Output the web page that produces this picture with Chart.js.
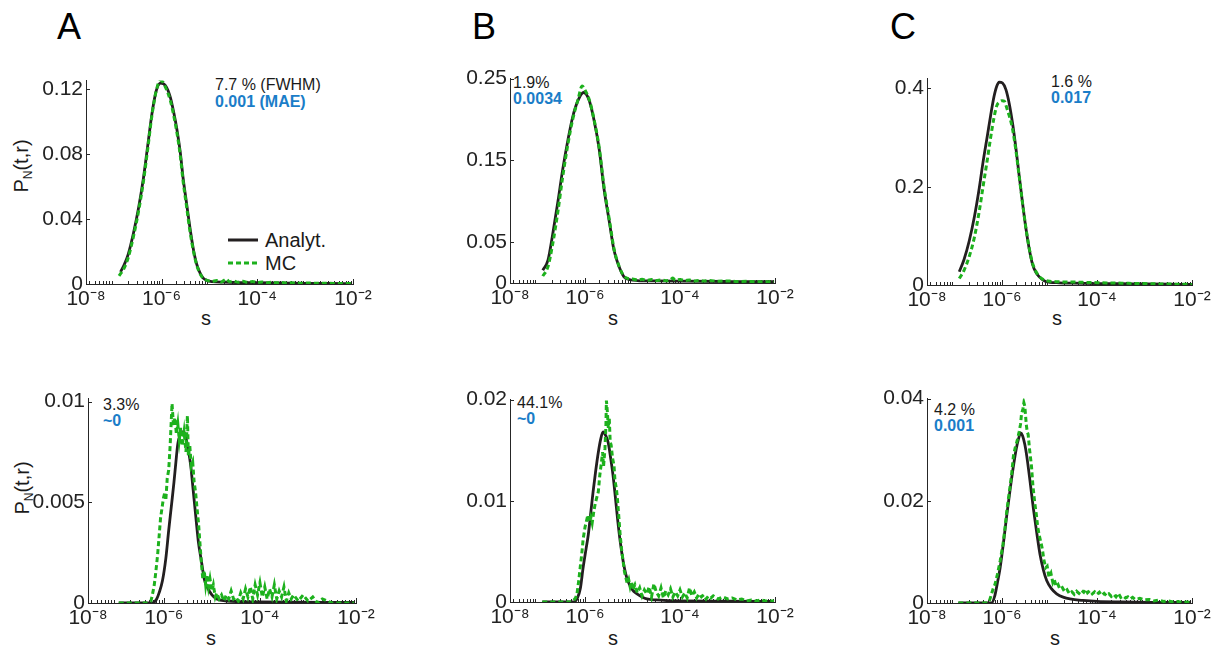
<!DOCTYPE html>
<html>
<head>
<meta charset="utf-8">
<script src="https://cdn.jsdelivr.net/npm/chart.js@4.4.1/dist/chart.umd.min.js"></script>
<style>
  html, body { margin: 0; padding: 0; background: #fff; }
  #fig { position: relative; width: 1211px; height: 645px; overflow: hidden;
         font-family: "Liberation Sans", Arial, Helvetica, sans-serif; color: #1a1a1a; }
  #fig canvas { position: absolute; }
  .t { position: absolute; line-height: 1; white-space: nowrap; transform: translateY(-50%); }
  .letter { font-size: 36px; color: #000; }
  .note { font-size: 16px; }
  .blue { color: #1a7dc8; font-weight: bold; }
  .axlab { font-size: 20px; transform: translate(-50%, -50%); }
  .ylab { position: absolute; font-size: 20px; line-height: 1; white-space: nowrap;
          transform: translate(-50%, -50%) rotate(-90deg); }
  .ylab sub { font-size: 12px; vertical-align: -4px; }
  .leg { font-size: 20px; }
  .legline { position: absolute; width: 30px; height: 3px; transform: translateY(-50%); }
</style>
</head>
<body>
<div id="fig">
  <div class="t letter" style="left:57px;top:27px">A</div>
  <div class="t letter" style="left:472px;top:27px">B</div>
  <div class="t letter" style="left:890px;top:27px">C</div>

  <div class="ylab" style="left:22px;top:166px">P<sub>N</sub>(t,r)</div>
  <div class="ylab" style="left:23px;top:488px">P<sub>N</sub>(t,r)</div>

  <div class="t axlab" style="left:206px;top:318px">s</div>
  <div class="t axlab" style="left:613px;top:318px">s</div>
  <div class="t axlab" style="left:1057px;top:318px">s</div>
  <div class="t axlab" style="left:211px;top:638px">s</div>
  <div class="t axlab" style="left:613px;top:638px">s</div>
  <div class="t axlab" style="left:1055px;top:638px">s</div>

  <div class="t note" style="left:215px;top:85px">7.7 % (FWHM)</div>
  <div class="t note blue" style="left:215px;top:102px">0.001 (MAE)</div>
  <div class="t note" style="left:513px;top:83px">1.9%</div>
  <div class="t note blue" style="left:513px;top:99px">0.0034</div>
  <div class="t note" style="left:1051px;top:82px">1.6 %</div>
  <div class="t note blue" style="left:1051px;top:98px">0.017</div>
  <div class="t note" style="left:103px;top:405px">3.3%</div>
  <div class="t note blue" style="left:103px;top:421px">~0</div>
  <div class="t note" style="left:517px;top:403px">44.1%</div>
  <div class="t note blue" style="left:517px;top:419px">~0</div>
  <div class="t note" style="left:934px;top:410px">4.2 %</div>
  <div class="t note blue" style="left:934px;top:426px">0.001</div>

  <div class="legline" style="left:228px;top:240px;background:#231f20"></div>
  <div class="t leg" style="left:265px;top:240px">Analyt.</div>
  <div class="legline" style="left:228px;top:263px;background:repeating-linear-gradient(90deg,#1db11d 0 5px,transparent 5px 8px)"></div>
  <div class="t leg" style="left:265px;top:263px">MC</div>
</div>
<script>
const FONT = '"Liberation Sans", Arial, Helvetica, sans-serif';
const BLACK = '#231f20';
const GREEN = '#1db11d';
const AXIS_COLOR = '#262626';

// x axis: s on a log scale, values kept as log10(s)
const xMinExp = -7.58;
const xMaxExp = -2;
const xTickExps = [-7.58, -6, -4, -2];
const xTickLabels = ['10⁻⁸', '10⁻⁶', '10⁻⁴', '10⁻²'];

// ---- A, top
const aTopYTicks = [0, 0.04, 0.08, 0.12];
const aTopAnalytExp = [-6.86, -6.78, -6.7, -6.59, -6.48, -6.38, -6.29, -6.2, -6.11, -6.02,
  -5.92, -5.82, -5.75, -5.68, -5.61, -5.55, -5.48, -5.41, -5.34, -5.27,
  -5.2, -5.13, -5.05, -4.95, -4.7, -4.4, -4.0, -3.5, -3.0, -2.5, -2.02];
const aTopAnalyt = [0.0074, 0.012, 0.018, 0.031, 0.047, 0.065, 0.085, 0.105, 0.119, 0.1235,
  0.122, 0.115, 0.106, 0.095, 0.081, 0.065, 0.050, 0.035, 0.022, 0.0125,
  0.007, 0.0036, 0.0022, 0.0015, 0.0011, 0.0009, 0.0008, 0.0006, 0.0004, 0.0003, 0.0002];
const aTopMcExp = [-6.89, -6.78, -6.7, -6.59, -6.48, -6.38, -6.29, -6.2, -6.11, -6.03,
  -5.97, -5.92, -5.82, -5.75, -5.68, -5.61, -5.55, -5.48, -5.41, -5.34,
  -5.27, -5.2, -5.13, -5.05, -4.95, -4.85, -4.75, -4.65, -4.58, -4.5,
  -4.4, -4.3, -4.2, -4.1, -4.0, -3.9, -3.8, -3.7, -3.6, -3.5,
  -3.4, -3.3, -3.1, -2.9, -2.7, -2.5, -2.3, -2.02];
const aTopMc = [0.005, 0.010, 0.016, 0.029, 0.045, 0.063, 0.083, 0.104, 0.119, 0.125,
  0.124, 0.121, 0.113, 0.104, 0.093, 0.079, 0.063, 0.048, 0.033, 0.021,
  0.012, 0.0065, 0.0035, 0.0022, 0.0015, 0.0022, 0.0013, 0.0030, 0.0014, 0.0019,
  0.0011, 0.0017, 0.0010, 0.0015, 0.0009, 0.0013, 0.0008, 0.0011, 0.0007, 0.0010,
  0.0006, 0.0008, 0.0005, 0.0006, 0.0004, 0.0004, 0.0003, 0.0003];

// ---- B, top
const bTopYTicks = [0, 0.05, 0.15, 0.25];
const bTopAnalytExp = [-6.89, -6.78, -6.68, -6.57, -6.47, -6.36, -6.26, -6.15, -6.03, -5.91,
  -5.81, -5.7, -5.6, -5.49, -5.39, -5.28, -5.18, -5.05, -4.9, -4.5, -4.0, -3.0, -2.02];
const bTopAnalyt = [0.0156, 0.028, 0.060, 0.100, 0.139, 0.175, 0.203, 0.223, 0.233, 0.223,
  0.199, 0.163, 0.115, 0.0755, 0.040, 0.0195, 0.0076, 0.004, 0.003, 0.0025, 0.0022, 0.0018, 0.0015];
const bTopMcExp = [-6.89, -6.78, -6.68, -6.57, -6.47, -6.36, -6.26, -6.15, -6.06, -6.0,
  -5.91, -5.81, -5.7, -5.6, -5.49, -5.39, -5.28, -5.18, -5.1, -5.0,
  -4.9, -4.8, -4.7, -4.6, -4.5, -4.4, -4.3, -4.2, -4.15, -4.1,
  -4.0, -3.9, -3.8, -3.7, -3.6, -3.5, -3.4, -3.2, -3.0, -2.8,
  -2.6, -2.4, -2.2, -2.02];
const bTopMc = [0.0084, 0.020, 0.048, 0.088, 0.130, 0.170, 0.200, 0.224, 0.241, 0.236,
  0.224, 0.200, 0.165, 0.118, 0.078, 0.042, 0.020, 0.0085, 0.0055, 0.0050,
  0.0035, 0.0045, 0.0030, 0.0042, 0.0030, 0.0038, 0.0028, 0.0040, 0.0060, 0.0035,
  0.0042, 0.0030, 0.0036, 0.0025, 0.0032, 0.0024, 0.0030, 0.0022, 0.0025, 0.0018,
  0.0020, 0.0015, 0.0016, 0.0015];

// ---- C, top
const cTopYTicks = [0, 0.2, 0.4];
const cTopAnalytExp = [-6.9, -6.8, -6.69, -6.58, -6.48, -6.4, -6.31, -6.24, -6.17, -6.11,
  -6.06, -5.99, -5.92, -5.85, -5.78, -5.71, -5.64, -5.57, -5.5, -5.43,
  -5.36, -5.29, -5.22, -5.15, -5.08, -5.0, -4.8, -4.5, -4.0, -3.5, -3.0, -2.5, -2.0];
const cTopAnalyt = [0.027, 0.052, 0.090, 0.140, 0.197, 0.250, 0.303, 0.345, 0.383, 0.405,
  0.413, 0.411, 0.398, 0.370, 0.330, 0.280, 0.223, 0.168, 0.117, 0.075,
  0.043, 0.026, 0.017, 0.011, 0.007, 0.0055, 0.0045, 0.0038, 0.003, 0.0025, 0.002, 0.0015, 0.001];
const cTopMcExp = [-6.9, -6.8, -6.69, -6.58, -6.48, -6.4, -6.31, -6.24, -6.17, -6.11,
  -6.06, -6.0, -5.95, -5.9, -5.85, -5.78, -5.71, -5.64, -5.57, -5.5,
  -5.43, -5.36, -5.29, -5.22, -5.15, -5.08, -5.0, -4.9, -4.8, -4.6,
  -4.4, -4.2, -4.0, -3.8, -3.6, -3.4, -3.2, -3.0, -2.8, -2.6,
  -2.4, -2.2, -2.0];
const cTopMc = [0.013, 0.030, 0.058, 0.098, 0.150, 0.200, 0.255, 0.300, 0.340, 0.365,
  0.372, 0.375, 0.374, 0.360, 0.345, 0.318, 0.275, 0.222, 0.168, 0.118,
  0.076, 0.045, 0.028, 0.018, 0.012, 0.009, 0.0075, 0.007, 0.0065, 0.006,
  0.0058, 0.005, 0.0048, 0.0042, 0.004, 0.0035, 0.003, 0.0028, 0.0025, 0.002,
  0.0018, 0.0015, 0.0012];

// ---- A, bottom
const aBotYTicks = [0, 0.005, 0.01];
const aBotAnalytExp = [-6.94, -6.6, -6.24, -6.15, -6.1, -6.03, -5.96, -5.9, -5.84, -5.79,
  -5.75, -5.71, -5.67, -5.63, -5.59, -5.55, -5.5, -5.44, -5.39, -5.34,
  -5.28, -5.22, -5.16, -5.1, -5.0, -4.9, -4.7, -4.0, -2.04];
const aBotAnalyt = [0, 0, 0, 0.0002, 0.0005, 0.0011, 0.0022, 0.0036, 0.0049, 0.0060,
  0.0070, 0.0079, 0.0083, 0.0085, 0.0085, 0.0083, 0.0077, 0.0068, 0.0056, 0.0044,
  0.0030, 0.0021, 0.0012, 0.0008, 0.0004, 0.0002, 0.0001, 0.00005, 0.00003];
const aBotMcExp = [-6.94, -6.7, -6.5, -6.35, -6.27, -6.24, -6.2, -6.17, -6.13, -6.1,
  -6.07, -6.04, -6.01, -5.98, -5.96, -5.93, -5.9, -5.87, -5.83, -5.8,
  -5.77, -5.74, -5.71, -5.68, -5.65, -5.62, -5.58, -5.54, -5.51, -5.49,
  -5.46, -5.43, -5.4, -5.37, -5.34, -5.31, -5.28, -5.25, -5.22, -5.19,
  -5.16, -5.13, -5.1, -5.07, -5.04, -5.0, -4.97, -4.93, -4.9, -4.85,
  -4.8, -4.75, -4.7, -4.65, -4.6, -4.55, -4.5, -4.45, -4.4, -4.35,
  -4.3, -4.25, -4.2, -4.15, -4.1, -4.05, -4.0, -3.95, -3.9, -3.85,
  -3.8, -3.75, -3.7, -3.65, -3.6, -3.55, -3.5, -3.45, -3.4, -3.35,
  -3.3, -3.2, -3.1, -3.0, -2.9, -2.8, -2.7, -2.6, -2.5, -2.3, -2.04];
const aBotMc = [0, 0, 0, 0, 0.0001, 0.0004, 0.0009, 0.0015, 0.0024, 0.0033,
  0.0042, 0.0047, 0.0052, 0.0055, 0.0051, 0.0062, 0.0066, 0.0078, 0.0099, 0.0088,
  0.0092, 0.0084, 0.0089, 0.0081, 0.0087, 0.0078, 0.0085, 0.0075, 0.0093, 0.0073,
  0.0078, 0.0068, 0.0070, 0.0060, 0.0055, 0.0047, 0.0040, 0.0030, 0.0020, 0.0012,
  0.0016, 0.0009, 0.0014, 0.0008, 0.0012, 0.0006, 0.0009, 0.0003, 0.0005, 0.0002,
  0.0004, 0.0001, 0.0004, 0.0002, 0.0006, 0.0002, 0.0003, 0.0001, 0.0005, 0.0002,
  0.0007, 0.0003, 0.0008, 0.0002, 0.0009, 0.0004, 0.0010, 0.0003, 0.0008, 0.0002,
  0.0007, 0.0003, 0.0009, 0.0002, 0.0006, 0.0003, 0.0008, 0.0001, 0.0005, 0.0002,
  0.0004, 0.0001, 0.0004, 0.0001, 0.0003, 0, 0.0002, 0.0001, 0, 0, 0];

// ---- B, bottom
const bBotYTicks = [0, 0.01, 0.02];
const bBotAnalytExp = [-6.9, -6.5, -6.24, -6.16, -6.1, -6.04, -5.98, -5.93, -5.88, -5.83,
  -5.78, -5.72, -5.67, -5.62, -5.57, -5.51, -5.46, -5.41, -5.36, -5.31,
  -5.26, -5.2, -5.15, -5.1, -5.0, -4.92, -4.8, -4.7, -4.5, -4.0, -3.0, -2.02];
const bBotAnalyt = [0, 0, 0, 0.0004, 0.0013, 0.0034, 0.0052, 0.0067, 0.0088, 0.0109,
  0.0128, 0.0148, 0.0161, 0.0168, 0.0165, 0.0157, 0.0142, 0.0125, 0.0103, 0.0080,
  0.0060, 0.0041, 0.0029, 0.0021, 0.0012, 0.00085, 0.0005, 0.0003, 0.0002, 0.0001, 0.00008, 0.00005];
const bBotMcExp = [-6.9, -6.7, -6.5, -6.31, -6.25, -6.2, -6.17, -6.13, -6.1, -6.07,
  -6.04, -6.0, -5.97, -5.94, -5.91, -5.88, -5.85, -5.82, -5.79, -5.76,
  -5.72, -5.69, -5.66, -5.63, -5.61, -5.58, -5.56, -5.55, -5.53, -5.51,
  -5.49, -5.47, -5.45, -5.42, -5.39, -5.37, -5.34, -5.32, -5.29, -5.26,
  -5.23, -5.2, -5.17, -5.14, -5.11, -5.08, -5.05, -5.02, -5.0, -4.95,
  -4.9, -4.85, -4.8, -4.75, -4.7, -4.65, -4.6, -4.55, -4.5, -4.45,
  -4.4, -4.35, -4.3, -4.25, -4.2, -4.15, -4.1, -4.05, -4.0, -3.95,
  -3.9, -3.85, -3.8, -3.75, -3.7, -3.65, -3.6, -3.55, -3.5, -3.45,
  -3.4, -3.35, -3.3, -3.2, -3.1, -3.0, -2.9, -2.8, -2.7, -2.6, -2.5, -2.4,
  -2.3, -2.2, -2.02];
const bBotMc = [0, 0, 0, 0, 0.0001, 0.0004, 0.0008, 0.0022, 0.0035, 0.0047,
  0.0062, 0.0074, 0.0080, 0.0086, 0.0079, 0.0084, 0.0078, 0.0088, 0.0096, 0.0102,
  0.0109, 0.0125, 0.0136, 0.0148, 0.0134, 0.0152, 0.0175, 0.0199, 0.0188, 0.0172,
  0.0182, 0.0158, 0.0155, 0.0142, 0.0135, 0.0120, 0.0112, 0.0103, 0.0085, 0.0066,
  0.0052, 0.0041, 0.0030, 0.0024, 0.0018, 0.0022, 0.0015, 0.0020, 0.0012, 0.0017,
  0.0009, 0.0014, 0.0006, 0.0012, 0.0008, 0.0015, 0.0005, 0.0018, 0.0010, 0.0006,
  0.0014, 0.0004, 0.0011, 0.0007, 0.0013, 0.0005, 0.0010, 0.0006, 0.0012, 0.0005,
  0.0009, 0.0004, 0.0014, 0.0006, 0.0010, 0.0004, 0.0008, 0.0005, 0.0007, 0.0003,
  0.0006, 0.0004, 0.0006, 0.0003, 0.0005, 0.0003, 0.0004, 0.0002, 0.0003, 0.0001, 0.0002, 0.0001,
  0.0002, 0.0001, 0.0001];

// ---- C, bottom
const cBotYTicks = [0, 0.02, 0.04];
const cBotAnalytExp = [-6.92, -6.5, -6.22, -6.15, -6.1, -6.04, -5.97, -5.9, -5.83, -5.76,
  -5.7, -5.65, -5.61, -5.57, -5.52, -5.48, -5.41, -5.34, -5.27, -5.2,
  -5.13, -5.06, -4.96, -4.85, -4.7, -4.57, -4.3, -4.0, -3.5, -2.5, -2.02];
const cBotAnalyt = [0, 0, 0, 0.0015, 0.0038, 0.0069, 0.0118, 0.0172, 0.0222, 0.0268,
  0.0302, 0.0322, 0.0333, 0.0328, 0.0310, 0.0288, 0.0238, 0.0185, 0.0138, 0.0095,
  0.0065, 0.0044, 0.0028, 0.0018, 0.0011, 0.0008, 0.0005, 0.0003, 0.0002, 0.0001, 0.0001];
const cBotMcExp = [-6.92, -6.6, -6.3, -6.26, -6.22, -6.18, -6.15, -6.1, -6.04, -5.98,
  -5.94, -5.9, -5.85, -5.8, -5.76, -5.72, -5.68, -5.64, -5.61, -5.59,
  -5.56, -5.54, -5.52, -5.49, -5.47, -5.45, -5.42, -5.38, -5.35, -5.31,
  -5.28, -5.25, -5.22, -5.18, -5.15, -5.12, -5.08, -5.05, -5.01, -4.97,
  -4.93, -4.9, -4.86, -4.82, -4.78, -4.73, -4.68, -4.63, -4.58, -4.53,
  -4.48, -4.43, -4.38, -4.33, -4.28, -4.24, -4.2, -4.15, -4.1, -4.05,
  -4.0, -3.95, -3.9, -3.85, -3.8, -3.75, -3.7, -3.65, -3.6, -3.55,
  -3.5, -3.45, -3.4, -3.35, -3.3, -3.25, -3.2, -3.1, -3.0, -2.9,
  -2.8, -2.7, -2.6, -2.5, -2.4, -2.3, -2.2, -2.1, -2.02];
const cBotMc = [0, 0, 0, 0.0006, 0.0018, 0.0030, 0.0036, 0.0055, 0.0082, 0.0115,
  0.0145, 0.018, 0.0215, 0.025, 0.0288, 0.0305, 0.0318, 0.0335, 0.0350, 0.037,
  0.0380, 0.0392, 0.0385, 0.035, 0.0335, 0.033, 0.030, 0.0268, 0.023, 0.0195,
  0.0175, 0.015, 0.0134, 0.0118, 0.0105, 0.0085, 0.0069, 0.0072, 0.0050, 0.0058,
  0.0040, 0.0046, 0.0032, 0.0036, 0.0027, 0.0030, 0.0022, 0.0026, 0.0018, 0.0022,
  0.0017, 0.0023, 0.0019, 0.0025, 0.0021, 0.0027, 0.0020, 0.0024, 0.0018, 0.0022,
  0.0017, 0.0021, 0.0015, 0.0019, 0.0014, 0.0018, 0.0013, 0.0017, 0.0012, 0.0019,
  0.0011, 0.0014, 0.0010, 0.0012, 0.0008, 0.0011, 0.0007, 0.0009, 0.0006, 0.0007,
  0.0004, 0.0006, 0.0003, 0.0004, 0.0002, 0.0003, 0.0001, 0.0002, 0.0001];

// where each plot area sits on the page: [left, right, top, bottom]
const panels = [
  { box: [86, 353, 77, 284], yMax: 0.125, yTicks: aTopYTicks, anExp: aTopAnalytExp, an: aTopAnalyt, mcExp: aTopMcExp, mc: aTopMc, smoothMc: true },
  { box: [510, 775, 75, 283], yMax: 0.25, yTicks: bTopYTicks, anExp: bTopAnalytExp, an: bTopAnalyt, mcExp: bTopMcExp, mc: bTopMc, smoothMc: true },
  { box: [927, 1192, 75, 285], yMax: 0.42, yTicks: cTopYTicks, anExp: cTopAnalytExp, an: cTopAnalyt, mcExp: cTopMcExp, mc: cTopMc, smoothMc: true },
  { box: [88, 356, 395, 603], yMax: 0.01015, yTicks: aBotYTicks, anExp: aBotAnalytExp, an: aBotAnalyt, mcExp: aBotMcExp, mc: aBotMc, smoothMc: false },
  { box: [510, 775, 396, 602], yMax: 0.02, yTicks: bBotYTicks, anExp: bBotAnalytExp, an: bBotAnalyt, mcExp: bBotMcExp, mc: bBotMc, smoothMc: false },
  { box: [927, 1192, 395, 603], yMax: 0.04, yTicks: cBotYTicks, anExp: cBotAnalytExp, an: cBotAnalyt, mcExp: cBotMcExp, mc: cBotMc, smoothMc: false }
];

function toPoints(exps, vals) {
  return exps.map((e, i) => ({ x: Math.pow(10, e), y: vals[i] }));
}

// matlab-style ticks pointing into the plot, plus log minor ticks on x
const inwardTicks = {
  id: 'inwardTicks',
  beforeDatasetsDraw(chart) {
    const { ctx, chartArea: a, scales: { x, y } } = chart;
    ctx.save();
    ctx.strokeStyle = AXIS_COLOR;
    ctx.lineWidth = 1;
    ctx.beginPath();
    y.ticks.forEach(t => {
      const py = Math.round(y.getPixelForValue(t.value)) + 0.5;
      ctx.moveTo(a.left, py);
      ctx.lineTo(a.left + 4, py);
    });
    x.ticks.forEach(t => {
      const px = Math.round(x.getPixelForValue(t.value)) + 0.5;
      ctx.moveTo(px, a.bottom);
      ctx.lineTo(px, a.bottom - 5);
    });
    for (let e = -8; e < -2; e++) {
      for (let k = 2; k <= 9; k++) {
        const v = k * Math.pow(10, e);
        if (v <= x.min || v >= x.max) continue;
        const px = Math.round(x.getPixelForValue(v)) + 0.5;
        ctx.moveTo(px, a.bottom);
        ctx.lineTo(px, a.bottom - 3);
      }
    }
    ctx.stroke();
    ctx.restore();
  }
};

const fig = document.getElementById('fig');
const padL = 80, padT = 12, padR = 25, padB = 50;

panels.forEach(p => {
  const [L, R, T, B] = p.box;
  const cv = document.createElement('canvas');
  cv.width = R - L + padL + padR;
  cv.height = B - T + padT + padB;
  cv.style.left = (L - padL) + 'px';
  cv.style.top = (T - padT) + 'px';
  cv.style.width = cv.width + 'px';
  cv.style.height = cv.height + 'px';
  fig.appendChild(cv);

  new Chart(cv, {
    type: 'line',
    data: {
      datasets: [
        { label: 'Analyt.', data: toPoints(p.anExp, p.an), borderColor: BLACK, borderWidth: 2.8,
          pointRadius: 0, cubicInterpolationMode: 'monotone', order: 2 },
        { label: 'MC', data: toPoints(p.mcExp, p.mc), borderColor: GREEN, borderWidth: 3,
          borderDash: [5, 3], pointRadius: 0, order: 1,
          cubicInterpolationMode: p.smoothMc ? 'monotone' : 'default', tension: 0 }
      ]
    },
    options: {
      responsive: false,
      animation: false,
      devicePixelRatio: 1,
      layout: { padding: { left: 0, top: padT, right: padR, bottom: 0 } },
      plugins: { legend: { display: false }, tooltip: { enabled: false } },
      scales: {
        x: {
          type: 'logarithmic',
          bounds: 'data',
          min: Math.pow(10, xMinExp),
          max: Math.pow(10, xMaxExp),
          afterBuildTicks: s => { s.ticks = xTickExps.map(e => ({ value: Math.pow(10, e) })); },
          afterFit: s => { s.height = padB; },
          grid: { display: false, drawTicks: false },
          border: { display: true, color: AXIS_COLOR, width: 1 },
          ticks: {
            autoSkip: false, maxRotation: 0, minRotation: 0, padding: 3,
            color: '#222', font: { family: FONT, size: 21 },
            callback: (v, i) => xTickLabels[i]
          }
        },
        y: {
          bounds: 'data',
          min: 0,
          max: p.yMax,
          afterBuildTicks: s => { s.ticks = p.yTicks.map(v => ({ value: v })); },
          afterFit: s => { s.width = padL; },
          grid: { display: false, drawTicks: false },
          border: { display: true, color: AXIS_COLOR, width: 1 },
          ticks: {
            padding: 3, color: '#222', font: { family: FONT, size: 21 },
            callback: v => String(v)
          }
        }
      }
    },
    plugins: [inwardTicks]
  });
});
</script>
</body>
</html>
